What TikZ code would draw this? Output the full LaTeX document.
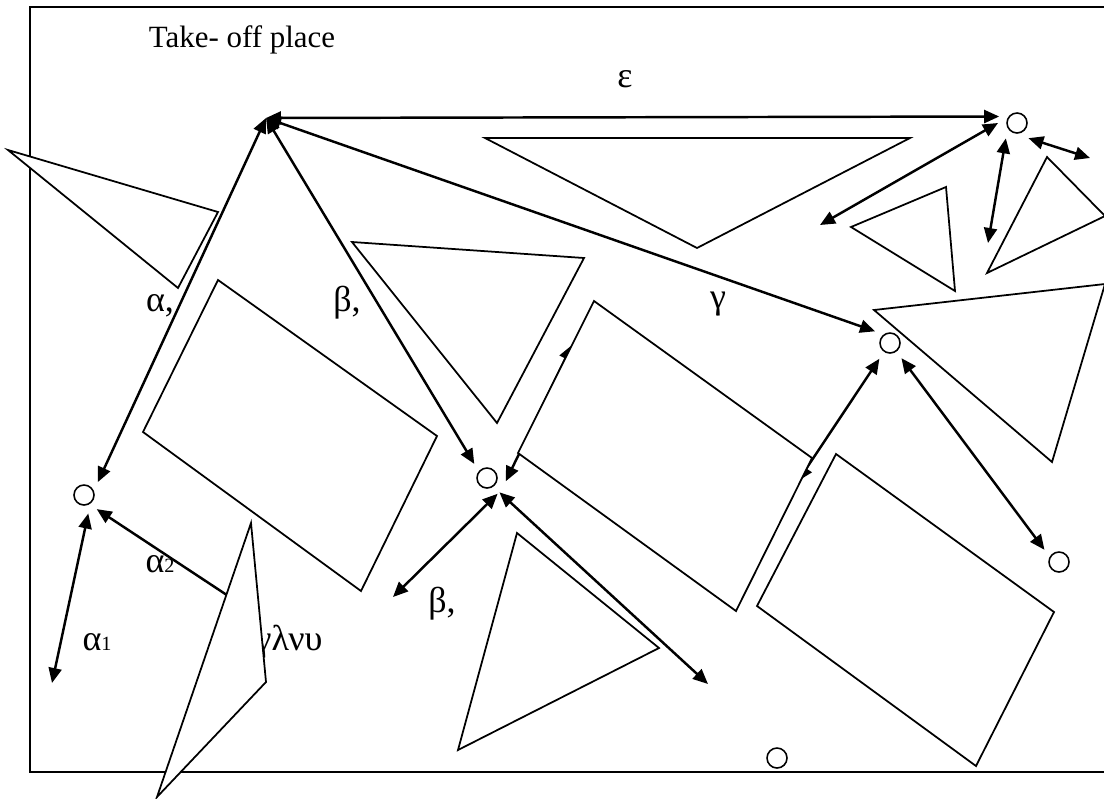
\documentclass[tikz,border=0pt]{standalone}
\usepackage{fontspec}
\setmainfont{Liberation Serif}
\usetikzlibrary{arrows.meta}

\newcommand{\lowdigit}[1]{{\fontsize{11.5}{13}\selectfont #1}}

\tikzset{
  spot/.style={circle, draw, line width=0.9pt, fill=white, minimum size=0.4cm, inner sep=0pt, outer sep=0.18cm},
  link/.style={line width=1.4pt, {Triangle[length=0.3cm,width=0.26cm]}-{Triangle[length=0.3cm,width=0.26cm]}},
  plate/.style={draw, line width=1pt, fill=white, line join=miter},
  lbl/.style={anchor=base, inner sep=0pt, font=\fontsize{17.6}{21}\selectfont},
  greek/.style={lbl, font=\fontsize{20.5}{24}\selectfont}
}

\begin{document}
\begin{tikzpicture}[x=0.02cm, y=-0.02cm]
  \useasboundingbox (0,0) rectangle (1104,798);
  \draw[line width=1.1pt] (1112,7) -- (30,7) -- (30,772) -- (1112,772);

  \node[lbl] (title) at (242,47) {Take- off place};
  \node[greek] (eps) at (625,87) {ε};
  \node[greek] (alab) at (160,311) {α,};
  \node[greek] (blab) at (347,311) {β,};
  \node[greek] (glab) at (718,308) {γ};
  \node[greek] (atwo) at (160,572) {α\lowdigit{2}};
  \node[greek] (aone) at (97,650) {α\lowdigit{1}};
  \node[greek] (blow) at (442,612) {β,};
  \node[greek] (glnu) at (289,650) {γλνυ};

  \node[spot] (p1) at (84,495) {};
  \node[spot] (p2) at (487,478) {};
  \node[spot] (p3) at (890,343) {};
  \node[spot] (p4) at (1059,562) {};
  \node[spot] (p5) at (1017,123) {};
  \node[spot] (p6) at (777,758) {};

  \coordinate (hub) at (266,118);
  \coordinate (a1end) at (52,683);
  \coordinate (a2end) at (245,607);
  \coordinate (b2end) at (393,597);
  \coordinate (b3end) at (708,684);
  \coordinate (g2end) at (572,345);
  \coordinate (d1end) at (798,481);
  \coordinate (e2end) at (820,225);
  \coordinate (e3end) at (988,243);
  \coordinate (e4end) at (1090,158);

  \draw[link] (hub) -- (p1.43);
  \draw[link] (hub) -- (p2.132);
  \draw[link] (hub) -- (p5.160);
  \draw[link] (hub) -- (p3.142);
  \draw[link] (p1.-77) -- (a1end);
  \draw[link] (p1.-48) -- (a2end);
  \draw[link] (p2.-56) -- (b2end);
  \draw[link] (p2.-49) -- (b3end);
  \draw[link] (p2.-10) -- (g2end);
  \draw[link] (p3.-124) -- (d1end);
  \draw[link] (p3.-53) -- (p4.140);
  \draw[link] (p5.180) -- (e2end);
  \draw[link] (p5.-126) -- (e3end);
  \draw[link] (p5.-53) -- (e4end);

  \draw[plate] (8,150) -- (218,212) -- (178,288) -- cycle;
  \draw[plate] (485,138) -- (910,138) -- (697,248) -- cycle;
  \draw[plate] (352,242) -- (584,258) -- (497,423) -- cycle;
  \draw[plate] (874,310) -- (1105,284) -- (1052,462) -- cycle;
  \draw[plate] (851,227) -- (946,187) -- (955,291) -- cycle;
  \draw[plate] (1047,157) -- (1105,216) -- (987,273) -- cycle;
  \draw[plate] (517,533) -- (659,648) -- (458,750) -- cycle;
  \draw[plate] (251,523) -- (266,682) -- (157,797) -- cycle;

  \draw[plate] (218,280) -- (437,436) -- (361,591) -- (143,432) -- cycle;
  \draw[plate] (594,301) -- (812,458) -- (736,611) -- (518,453) -- cycle;
  \draw[plate] (836,454) -- (1054,612) -- (976,766) -- (757,606) -- cycle;
\end{tikzpicture}
\end{document}
